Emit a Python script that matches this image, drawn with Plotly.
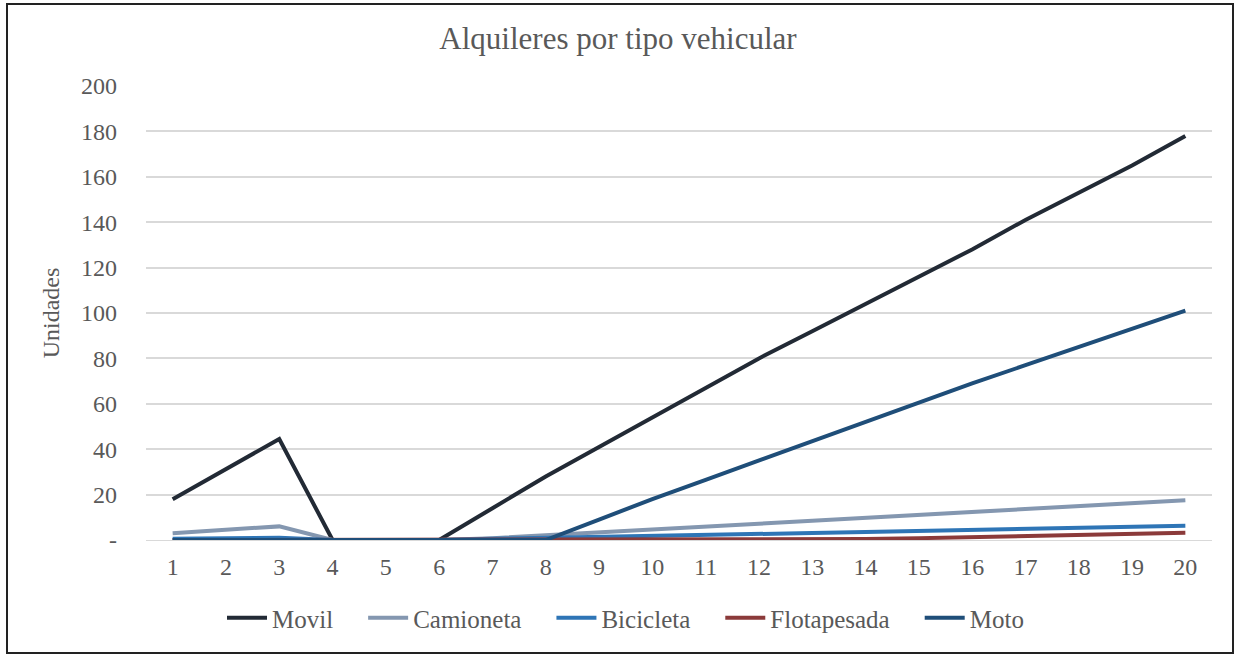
import plotly.graph_objects as go

# ---------------------------------------------------------------------------
# Data
# ---------------------------------------------------------------------------
periodos = list(range(1, 21))

movil = [18, 31, 44.5, 0, 0, 0, 14, 28, 41, 54, 67, 80, 92, 104, 116, 128, 141, 153, 165, 178]
camioneta = [3, 4.5, 6, 0, 0, 0, 0.8, 2, 3.3, 4.6, 5.9, 7.2, 8.5, 9.8, 11.1, 12.4, 13.7, 15, 16.3, 17.5]
bicicleta = [0.5, 0.8, 1, 0, 0, 0, 0.5, 1, 1.4, 1.9, 2.3, 2.7, 3.1, 3.5, 4, 4.4, 4.8, 5.3, 5.8, 6.3]
flotapesada = [0, 0, 0, 0, 0, 0, 0, 0, 0, 0, 0, 0, 0.1, 0.4, 0.8, 1.3, 1.8, 2.3, 2.8, 3.2]
moto = [0, 0, 0, 0, 0, 0, 0, 0, 9, 18, 26.5, 35, 43.5, 52, 60.5, 69, 77, 85, 93, 101]

y_ticks = [0, 20, 40, 60, 80, 100, 120, 140, 160, 180, 200]
y_labels = ["-", "20", "40", "60", "80", "100", "120", "140", "160", "180", "200"]

series = [
    ("Movil", movil, "#222a35"),
    ("Camioneta", camioneta, "#8497b0"),
    ("Bicicleta", bicicleta, "#2e75b6"),
    ("Flotapesada", flotapesada, "#8b3a3a"),
    ("Moto", moto, "#1f4e79"),
]

# ---------------------------------------------------------------------------
# Layout geometry (pixels)
# ---------------------------------------------------------------------------
W, H = 1236, 657
PL, PR, PT, PB = 146, 1212, 86, 540   # plot area edges


def px_x(x):
    return (x - PL) / (PR - PL)


def px_y(y):
    return (PB - y) / (PB - PT)


FONT = "Liberation Serif"
GREY = "#595959"
PAD = "\u00a0" * 4   # extra room between legend entries, like Excel

fig = go.Figure()
for name, vals, color in series:
    fig.add_trace(
        go.Scatter(x=periodos, y=vals, name=name + PAD, mode="lines",
                   line=dict(color=color, width=4))
    )

fig.update_layout(
    width=W,
    height=H,
    margin=dict(l=PL, r=W - PR, t=PT, b=H - PB),
    paper_bgcolor="white",
    plot_bgcolor="white",
    font=dict(family=FONT, color=GREY, size=24),
    title=dict(text="Alquileres por tipo vehicular", x=0.5, xref="container",
               y=1 - 38 / H, yanchor="middle",
               font=dict(family=FONT, size=31, color=GREY)),
    legend=dict(orientation="h", x=px_x(638), xanchor="center",
                y=px_y(618), yanchor="middle",
                font=dict(family=FONT, size=25, color=GREY),
                itemwidth=40, tracegroupgap=0),
    showlegend=True,
)

fig.update_xaxes(
    range=[0.5, 20.5],
    tickvals=periodos,
    showgrid=False,
    zeroline=False,
    showline=True,
    linecolor="#d9d9d9",
    linewidth=1,
    ticks="",
    ticklabelstandoff=5,
    tickfont=dict(family=FONT, size=24, color=GREY),
)
fig.update_yaxes(
    range=[0, 200],
    tickvals=y_ticks,
    ticktext=y_labels,
    showgrid=True,
    gridcolor="#d9d9d9",
    gridwidth=1.5,
    zeroline=False,
    ticks="",
    ticklabelstandoff=28,
    tickfont=dict(family=FONT, size=24, color=GREY),
    title=dict(text="Unidades", standoff=14,
               font=dict(family=FONT, size=24, color=GREY)),
)

# outer chart border
fig.add_shape(type="rect", xref="paper", yref="paper",
              x0=px_x(7), x1=px_x(1233), y0=px_y(653), y1=px_y(4),
              line=dict(color="#222222", width=2), layer="above")

fig.write_html("out.html", config={"displayModeBar": False},
               post_script="document.body.style.margin='0';")
